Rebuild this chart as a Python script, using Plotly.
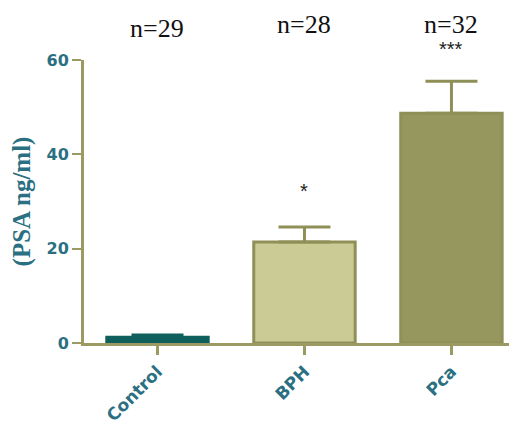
import plotly.graph_objects as go

categories = ["Control", "BPH", "Pca"]
means = [1.2, 21.4, 48.7]
sem = [0.5, 3.2, 6.8]
n_labels = ["n=29", "n=28", "n=32"]
sig_labels = ["", "*", "***"]
y_ticks = [0, 20, 40, 60]

fill_colors = ["#0f5f5c", "#cbcb95", "#96965f"]
line_colors = ["#0f5f5c", "#8f8f58", "#8f8f58"]

fig = go.Figure()
for c, m, e, fc, lc in zip(categories, means, sem, fill_colors, line_colors):
    fig.add_trace(go.Bar(
        x=[c], y=[m], width=0.69,
        marker=dict(color=fc, line=dict(color=lc, width=3)),
        error_y=dict(type="data", array=[e], arrayminus=[0], symmetric=False,
                     color=lc, thickness=3, width=26),
        showlegend=False,
    ))

n_shift = [32, 36, 36]
for c, t, ys in zip(categories, n_labels, n_shift):
    fig.add_annotation(x=c, y=1, yref="paper", yshift=ys, text=t, showarrow=False,
                       xanchor="center", yanchor="middle", borderpad=0,
                       font=dict(family="Liberation Serif", size=26, color="#111111"))
for c, s, m, e, ys in zip(categories, sig_labels, means, sem, [0, 36, 32]):
    if s:
        fig.add_annotation(x=c, y=m + e, text=s, showarrow=False, yanchor="middle", yshift=ys,
                           borderpad=0,
                           font=dict(family="Liberation Sans", size=20, color="#222222"))

fig.update_layout(
    width=509, height=418,
    margin=dict(l=76, r=0, t=52, b=83, autoexpand=False),
    plot_bgcolor="white", paper_bgcolor="white",
    barmode="overlay",
    xaxis=dict(range=[-0.5, 2.446], showline=True, linecolor="#9a9a62", linewidth=3,
               ticks="outside", ticklen=9, tickwidth=3, tickcolor="#9a9a62",
               tickangle=-45, showgrid=False, zeroline=False, automargin=False,
               tickfont=dict(family="DejaVu Sans", size=17, color="#2b6f82", weight="bold")),
    yaxis=dict(range=[0, 60], tickvals=y_ticks, showline=True, linecolor="#9a9a62", linewidth=3,
               ticks="outside", ticklen=9, tickwidth=2, tickcolor="#9a9a62",
               showgrid=False, zeroline=False, automargin=False,
               tickfont=dict(family="DejaVu Sans", size=16, color="#2b6f82", weight="bold"),
               title=dict(text="(PSA ng/ml)", standoff=9,
                          font=dict(family="Liberation Serif", size=25, color="#2b6f82", weight="bold"))),
)

fig.write_html("out.html")
